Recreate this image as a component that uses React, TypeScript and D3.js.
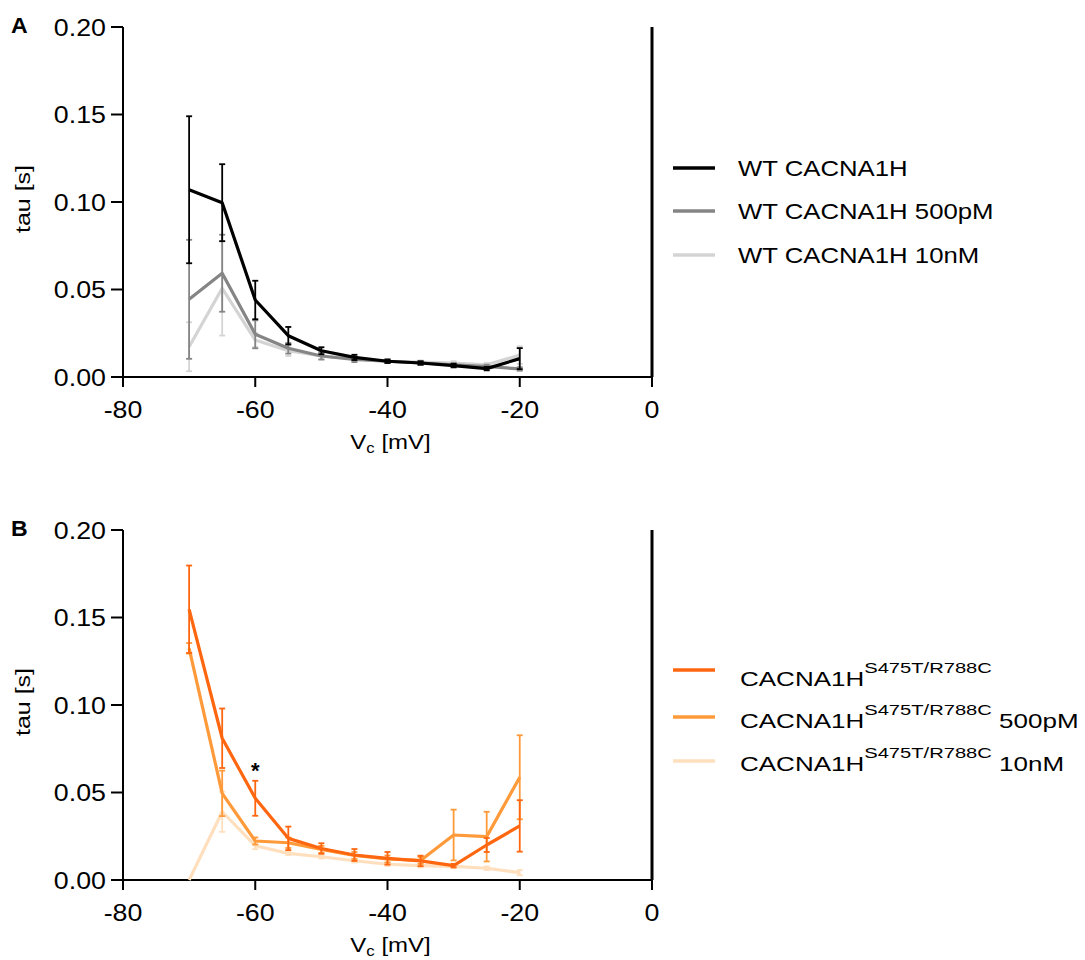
import React from "react";
import * as d3 from "d3";

const voltages = [-70, -65, -60, -55, -50, -45, -40, -35, -30, -25, -20];
const xTicks = [-80, -60, -40, -20, 0];
const yTicks = [0, 0.05, 0.1, 0.15, 0.2];

const wtMean = [0.107, 0.0996, 0.044, 0.0236, 0.015, 0.0112, 0.009, 0.008, 0.0065, 0.0048, 0.0105];
const wtErr = [0.042, 0.022, 0.011, 0.005, 0.002, 0.0015, 0.001, 0.001, 0.001, 0.001, 0.006];
const wt500Mean = [0.0444, 0.0593, 0.0244, 0.0164, 0.012, 0.01, 0.009, 0.008, 0.007, 0.006, 0.0046];
const wt500Err = [0.034, 0.022, 0.008, 0.003, 0.002, 0.0015, 0.001, 0.001, 0.001, 0.001, 0.001];
const wt10Mean = [0.0173, 0.0507, 0.0211, 0.015, 0.012, 0.0105, 0.009, 0.0085, 0.008, 0.007, 0.0125];
const wt10Err = [0.014, 0.027, 0.004, 0.003, 0.002, 0.0015, 0.001, 0.001, 0.001, 0.001, 0.005];

const mutMean = [0.1547, 0.081, 0.0467, 0.0238, 0.018, 0.0143, 0.0124, 0.0109, 0.0082, 0.02, 0.0309];
const mutErr = [0.025, 0.017, 0.01, 0.0067, 0.003, 0.0034, 0.0036, 0.003, 0.001, 0.004, 0.0147];
const mut500Mean = [0.1324, 0.0495, 0.0223, 0.0213, 0.0175, 0.014, 0.012, 0.0112, 0.0257, 0.0248, 0.0587];
const mut500Err = [0.003, 0.013, 0.002, 0.003, 0.002, 0.002, 0.002, 0.002, 0.0145, 0.0142, 0.024];
const mut10Mean = [0.0, 0.039, 0.0196, 0.0152, 0.0133, 0.011, 0.009, 0.0082, 0.0078, 0.0067, 0.0042];
const mut10Err = [0.0, 0.0115, 0.002, 0.001, 0.001, 0.001, 0.001, 0.001, 0.001, 0.001, 0.0015];

type Series = { name: string; sup?: string; suffix?: string; color: string; mean: number[]; err: number[] };

const seriesA: Series[] = [
  { name: "WT CACNA1H", color: "#000000", mean: wtMean, err: wtErr },
  { name: "WT CACNA1H 500pM", color: "#858585", mean: wt500Mean, err: wt500Err },
  { name: "WT CACNA1H 10nM", color: "#d4d4d4", mean: wt10Mean, err: wt10Err },
];
const seriesB: Series[] = [
  { name: "CACNA1H", sup: "S475T/R788C", suffix: "", color: "#ff6610", mean: mutMean, err: mutErr },
  { name: "CACNA1H", sup: "S475T/R788C", suffix: " 500pM", color: "#ff9a3a", mean: mut500Mean, err: mut500Err },
  { name: "CACNA1H", sup: "S475T/R788C", suffix: " 10nM", color: "#ffdfbd", mean: mut10Mean, err: mut10Err },
];

const FONT = "'Liberation Sans', Arial, sans-serif";

function T({ x, y, sx = 1, rot = 0, size, anchor = "start", weight = "normal", children }: any) {
  return (
    <text
      transform={`translate(${x},${y})${rot ? ` rotate(${rot})` : ""} scale(${sx},1)`}
      fontSize={size}
      textAnchor={anchor}
      fontWeight={weight}
    >
      {children}
    </text>
  );
}

function Panel({ top, label, series, star, legendRows, legendBase, legendX }: {
  top: number; label: string; series: Series[]; star?: { v: number; y: number };
  legendRows: number[]; legendBase: number[]; legendX: number;
}) {
  const left = 123;
  const right = 652;
  const h = 350;
  const x = d3.scaleLinear().domain([-80, 0]).range([left, right]);
  const y = d3.scaleLinear().domain([0, 0.2]).range([top + h, top]);
  const line = d3
    .line<number>()
    .x((_, i) => x(voltages[i]))
    .y((d) => y(d));
  const drawOrder = [...series].reverse();
  return (
    <g fontFamily={FONT}>
      <T x={11} y={top + 6} size={22} sx={1.05} weight="bold">{label}</T>
      {/* y axis */}
      <line x1={left} x2={left} y1={top} y2={top + h} stroke="#000" strokeWidth={2} />
      {yTicks.map((t) => (
        <g key={t}>
          <line x1={left - 12} x2={left} y1={y(t)} y2={y(t)} stroke="#000" strokeWidth={2} />
          <T x={left - 17} y={y(t) + 8.5} size={23.5} sx={1.14} anchor="end">{t.toFixed(2)}</T>
        </g>
      ))}
      <T x={30} y={top + 172} rot={-90} size={20} sx={1.25} anchor="middle">tau [s]</T>
      {/* x axis */}
      <line x1={left} x2={right} y1={top + h} y2={top + h} stroke="#000" strokeWidth={2} />
      {xTicks.map((t) => (
        <g key={t}>
          <line x1={x(t)} x2={x(t)} y1={top + h} y2={top + h + 10} stroke="#000" strokeWidth={2} />
          <T x={x(t)} y={top + h + 41} size={23.5} sx={1.14} anchor="middle">{t}</T>
        </g>
      ))}
      <T x={(left + right) / 2 + 3} y={top + h + 72} size={20} sx={1.2} anchor="middle">
        V<tspan fontSize={14} dy={4}>c</tspan>
        <tspan dy={-4}> [mV]</tspan>
      </T>
      {/* right border */}
      <line x1={right} x2={right} y1={top} y2={top + h} stroke="#000" strokeWidth={3} />
      {/* data */}
      {drawOrder.map((s, si) => (
        <g key={si}>
          {s.mean.map((m, i) => {
            const e = s.err[i];
            if (e <= 0) return null;
            const cx = x(voltages[i]);
            return (
              <g key={i} stroke={s.color} strokeWidth={1.8}>
                <line x1={cx} x2={cx} y1={y(m + e)} y2={y(Math.max(0, m - e))} />
                <line x1={cx - 3} x2={cx + 3} y1={y(m + e)} y2={y(m + e)} />
                <line x1={cx - 3} x2={cx + 3} y1={y(Math.max(0, m - e))} y2={y(Math.max(0, m - e))} />
              </g>
            );
          })}
          <path d={line(s.mean) || ""} fill="none" stroke={s.color} strokeWidth={3.2} strokeLinejoin="round" />
        </g>
      ))}
      {star && (
        <T x={x(star.v)} y={y(star.y) + 10} size={22} anchor="middle" weight="bold">*</T>
      )}
      {/* legend */}
      {series.map((s, i) => (
        <g key={i}>
          <line x1={673} x2={715} y1={legendRows[i]} y2={legendRows[i]} stroke={s.color} strokeWidth={3.5} />
          {s.sup ? (
            <T x={legendX} y={legendBase[i]} size={20} sx={1.3}>
              {s.name}
              <tspan fontSize={15.5} dy={-13}>{s.sup}</tspan>
              {s.suffix ? <tspan dy={13}>{s.suffix}</tspan> : null}
            </T>
          ) : (
            <T x={legendX} y={legendBase[i]} size={22} sx={1.17}>{s.name}</T>
          )}
        </g>
      ))}
    </g>
  );
}

export default function App() {
  return (
    <svg width={1085} height={960} style={{ position: "absolute", left: 0, top: 0, background: "#fff" }}>
      <rect width={1085} height={960} fill="#fff" />
      <Panel top={27} label="A" series={seriesA} legendRows={[168, 211, 255]} legendBase={[176, 219, 263]} legendX={738} />
      <Panel top={530} label="B" series={seriesB} star={{ v: -60, y: 0.064 }} legendRows={[670, 717, 761]} legendBase={[686, 728, 771]} legendX={740} />
    </svg>
  );
}
